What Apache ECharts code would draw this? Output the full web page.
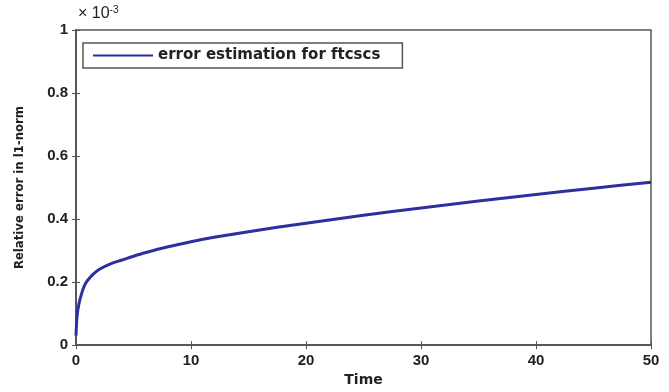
<!DOCTYPE html>
<html>
<head>
<meta charset="utf-8">
<script src="https://cdn.jsdelivr.net/npm/echarts@6/dist/echarts.min.js"></script>
<style>
  html, body { margin: 0; padding: 0; background: #fff; }
  #main { width: 669px; height: 392px; }
</style>
</head>
<body>
<div id="main"></div>
<script>
// temps et erreur relative (unites de 1e-3)
var times = [0, 0.1, 0.25, 0.5, 0.75, 1, 1.5, 2, 3, 4, 5, 6, 8, 10, 12, 15, 20, 25, 30, 35, 40, 45, 50];
var errors = [0.03, 0.095, 0.13, 0.165, 0.19, 0.205, 0.225, 0.24, 0.258, 0.27, 0.282, 0.293, 0.312, 0.328, 0.342, 0.36, 0.387, 0.412, 0.435, 0.457, 0.478, 0.498, 0.517];

var chart = echarts.init(document.getElementById('main'));

var axisColor = '#555';
var labelFont = { color: '#222', fontFamily: 'Liberation Sans', fontWeight: 'bold', fontSize: 15 };

chart.setOption({
    animation: false,
    grid: { left: 76, right: 18, top: 30, bottom: 45, show: true, borderColor: axisColor, borderWidth: 1.5 },
    graphic: [{
        type: 'text',
        left: 78, top: 5,
        style: {
            text: '× 10{s|-3}',
            rich: { s: { fontSize: 10, fontFamily: 'Liberation Sans', verticalAlign: 'top', padding: [0, 0, 8, 0] } },
            fontSize: 16, fontFamily: 'Liberation Sans', fill: '#222'
        }
    }],
    legend: {
        left: 83, top: 43,
        data: ['error estimation for ftcscs'],
        icon: 'rect',
        itemWidth: 60, itemHeight: 2, itemGap: 5,
        borderColor: '#555', borderWidth: 1.5, borderRadius: 0,
        padding: [5, 22, 5, 10],
        textStyle: { color: '#222', fontFamily: 'DejaVu Sans', fontWeight: 'bold', fontSize: 15 }
    },
    xAxis: [{
        type: 'value', min: 0, max: 50, interval: 10,
        name: 'Time', nameLocation: 'middle', nameGap: 25,
        nameTextStyle: { color: '#222', fontFamily: 'DejaVu Sans', fontWeight: 'bold', fontSize: 14 },
        axisLine: { lineStyle: { color: axisColor, width: 1.5 } },
        axisTick: { inside: true, length: 4, lineStyle: { color: axisColor } },
        axisLabel: Object.assign({ margin: 8 }, labelFont),
        splitLine: { show: false }
    }, {
        type: 'value', position: 'top', min: 0, max: 50, interval: 10, show: true,
        axisLine: { show: true, lineStyle: { color: axisColor, width: 1.5 } },
        axisTick: { show: true, inside: true, length: 4, lineStyle: { color: axisColor } },
        axisLabel: { show: false },
        splitLine: { show: false }
    }],
    yAxis: [{
        type: 'value', min: 0, max: 1, interval: 0.2,
        name: 'Relative error in l1-norm', nameLocation: 'middle', nameGap: 50,
        nameTextStyle: { color: '#222', fontFamily: 'DejaVu Sans Condensed', fontWeight: 'bold', fontSize: 13 },
        axisLine: { show: true, lineStyle: { color: axisColor, width: 1.5 } },
        axisTick: { show: true, inside: true, length: 4, lineStyle: { color: axisColor } },
        axisLabel: Object.assign({ margin: 8, formatter: function (v) { return String(+v.toFixed(1)); } }, labelFont),
        splitLine: { show: false }
    }, {
        type: 'value', position: 'right', min: 0, max: 1, interval: 0.2, show: true,
        axisLine: { show: true, lineStyle: { color: axisColor, width: 1.5 } },
        axisTick: { show: true, inside: true, length: 4, lineStyle: { color: axisColor } },
        axisLabel: { show: false },
        splitLine: { show: false }
    }],
    series: [{
        name: 'error estimation for ftcscs',
        type: 'line',
        smooth: 0.3,
        showSymbol: false,
        lineStyle: { color: '#2e2e9e', width: 3 },
        itemStyle: { color: '#2e2e9e' },
        data: times.map(function (t, i) { return [t, errors[i]]; })
    }]
});
</script>
</body>
</html>
